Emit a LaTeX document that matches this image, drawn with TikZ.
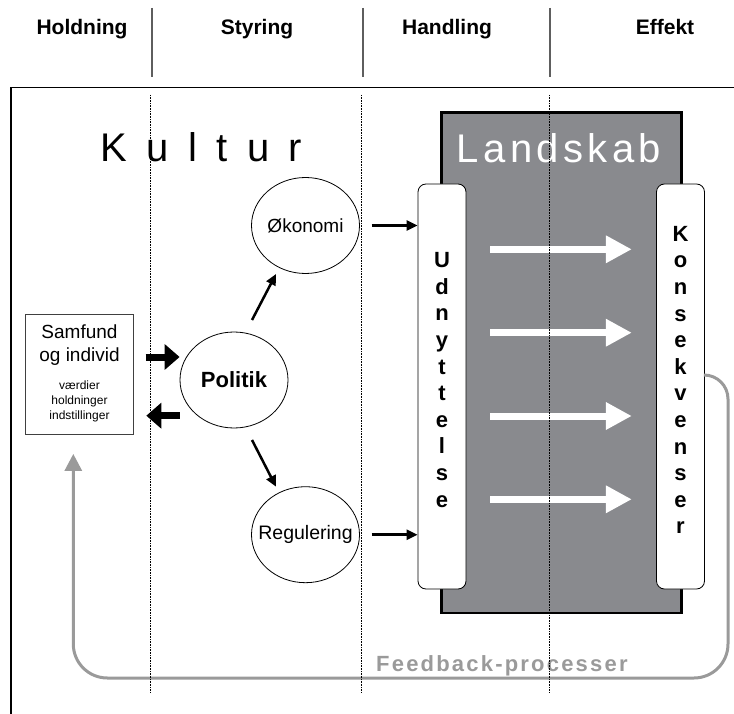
\documentclass[tikz,border=0pt]{standalone}
\usepackage{fontspec}
\setmainfont{Liberation Sans}
\newfontfamily\widefont[LetterSpace=11]{Liberation Sans}
\newfontfamily\widerfont[LetterSpace=21]{Liberation Sans}
\newfontfamily\fbfont[LetterSpace=10]{Liberation Sans}
\usetikzlibrary{shapes.geometric,arrows.meta,calc}

\definecolor{landgray}{HTML}{898A8E}
\definecolor{fbgray}{HTML}{9A9A9A}
\definecolor{sepgray}{HTML}{5E5E5E}

\begin{document}
\begin{tikzpicture}[x=1pt,y=-1pt,
    head/.style={font=\bfseries\fontsize{21}{25}\selectfont, anchor=base},
    blob/.style={draw, thick, ellipse, minimum width=108pt, minimum height=96pt, inner sep=0pt},
    column/.style={draw, thick, fill=white, rounded corners=8pt, minimum width=48pt, minimum height=405pt},
    letters/.style={font=\bfseries\fontsize{22}{26.6}\selectfont, align=center},
    fatarrow/.style={line width=7pt, -{Triangle[length=15pt,width=25pt]}},
    thinarrow/.style={line width=2.5pt, -{Triangle[length=11pt,width=10pt]}},
    whitearrow/.style={white, line width=7pt, -{Triangle[length=26pt,width=26pt]}},
    dotline/.style={line width=0.6pt, dash pattern=on 0.8pt off 0.8pt},
    fbline/.style={fbgray, line width=3pt}]
\useasboundingbox (0,0) rectangle (734,714);

% frame and column headings
\draw [line width=1.3pt] (11,714) -- (11,87.3) -- (734,87.3);
\foreach \x in {152,363,550}
  \draw [sepgray, line width=1.8pt] (\x,8) -- (\x,77);
\node [head] at (82,35) {Holdning};
\node [head] at (257,35) {Styring};
\node [head] at (447,35) {Handling};
\node [head] at (665,35) {Effekt};

% landscape block
\draw [line width=2.5pt, fill=landgray] (441.7,112.7) rectangle (681.7,613);
\node [anchor=base west, white, font=\widefont\fontsize{40}{48}\selectfont, inner sep=0pt] (landskab) at (456.7,162.7) {Landskab};
\node [anchor=base west, font=\widerfont\fontsize{40}{48}\selectfont, inner sep=0pt] (kultur) at (100,162) {K u l t u r};

\node [column] (udnyt) at (442,386.5) {};
\node [column] (kons) at (680.5,386.5) {};
\node [letters] at ($(udnyt)+(0,-6.5)$) {U\\d\\n\\y\\t\\t\\e\\l\\s\\e};
\node [letters] at ($(kons)+(0,-6.5)$) {K\\o\\n\\s\\e\\k\\v\\e\\n\\s\\e\\r};

% society box and the policy ellipses
\node [draw, color=black!75, line width=1.2pt, minimum width=107.6pt, minimum height=120pt] (samfund) at (79.5,374.3) {};
\node [align=center, font=\fontsize{19}{23}\selectfont] at ($(samfund)+(0,-28.8)$) {Samfund\\og individ};
\node [align=center, font=\fontsize{12}{15}\selectfont] at ($(samfund)+(0,27.2)$) {værdier\\holdninger\\indstillinger};

\node [blob] (politik) at (234,380) {};
\node [blob] (okonomi) at (305.5,225.5) {};
\node [blob] (regulering) at (305.5,534.7) {};
\node [font=\bfseries\fontsize{22}{26}\selectfont] at (politik) {Politik};
\node [font=\fontsize{19}{23}\selectfont] at (okonomi) {Økonomi};
\node [font=\fontsize{19.5}{23}\selectfont] at (regulering) {Regulering};

% arrows
\draw [fatarrow] ($(samfund.east)+(11.7,-17.3)$) -- ($(politik.west)+(0,-23)$);
\draw [fatarrow] ($(politik.west)+(0,35.7)$) -- ($(samfund.east)+(12.4,41.4)$);
\draw [thinarrow] ($(politik)+(18,-60)$) -- ($(okonomi)+(-29.5,48.5)$);
\draw [thinarrow] ($(politik)+(18,60)$) -- ($(regulering)+(-29.5,-48)$);
\draw [thinarrow] ($(okonomi.east)+(11.7,0)$) -- (okonomi.east -| udnyt.west);
\draw [thinarrow] ($(regulering.east)+(11.7,0)$) -- (regulering.east -| udnyt.west);
\foreach \y in {249.3,332.7,416,499.3}
  \draw [whitearrow] ($(udnyt.east |- 0,\y)+(24,0)$) -- ($(kons.west |- 0,\y)+(-24.3,0)$);

% feedback loop
\draw [fbline, -{Triangle[length=17pt,width=17pt]}] ($(kons.east)+(0,-11.5)$) [rounded corners=24pt] -| (728,440) [rounded corners=34pt] -- (728,678) -| ($(samfund.south)+(-6.2,19)$);
\node [anchor=base west, fbgray, font=\fbfont\bfseries\fontsize{22}{26}\selectfont, inner sep=0pt] (feedback) at (376,671.7) {Feedback-processer};

% dotted column guides
\foreach \x in {150.7,361.7,549.3}
  \draw [dotline] (\x,95) -- (\x,692);
\end{tikzpicture}
\end{document}
